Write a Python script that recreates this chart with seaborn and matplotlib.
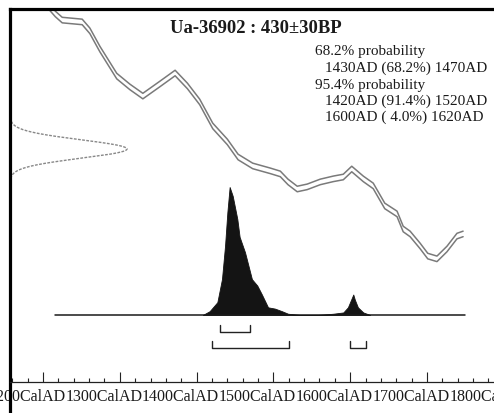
import numpy as np
import matplotlib
matplotlib.use("Agg")
import matplotlib.pyplot as plt
import matplotlib.transforms as mtransforms
import seaborn as sns

# ---------------- data ----------------
title = "Ua-36902 : 430±30BP"
date_bp = 430
date_err = 30

curve_year = [1205, 1216, 1225, 1251, 1261, 1274, 1296, 1313, 1330, 1352,
              1372, 1388, 1404, 1421, 1440, 1454, 1473, 1496, 1509, 1519,
              1531, 1544, 1561, 1578, 1591, 1602, 1617, 1630, 1645, 1661,
              1669, 1678, 1691, 1701, 1713, 1726, 1739, 1747]
curve_bp = [900, 869, 849, 843, 814, 755, 667, 632, 602, 641,
            677, 635, 583, 505, 453, 404, 375, 359, 349, 323,
            300, 307, 323, 333, 339, 365, 333, 310, 245, 219,
            170, 154, 115, 82, 73, 105, 147, 154]
curve_err = 9

prob_year = [1408, 1417, 1427, 1433, 1437, 1440, 1443, 1447, 1453, 1456,
             1463, 1472, 1479, 1485, 1493, 1502, 1511, 1519, 1535, 1557,
             1578, 1591, 1597, 1604, 1606, 1610, 1617, 1626]
prob_val = [0, 0.03, 0.10, 0.28, 0.54, 0.80, 1.0, 0.93, 0.75, 0.61,
            0.49, 0.28, 0.23, 0.16, 0.06, 0.05, 0.03, 0.01, 0, 0,
            0.01, 0.02, 0.06, 0.16, 0.12, 0.06, 0.02, 0]

baseline_years = [1215, 1750]
range68 = [(1430, 1470)]
range95 = [(1420, 1520), (1600, 1620)]

text_heads = ["68.2% probability", "95.4% probability"]
text_68 = ["1430AD (68.2%) 1470AD"]
text_95 = ["1420AD (91.4%) 1520AD", "1600AD ( 4.0%) 1620AD"]

major_ticks = list(range(1100, 1901, 100))
minor_ticks = list(range(1100, 1901, 20))
tick_labels = [f"{y}CalAD" for y in major_ticks]

# ---------------- figure ----------------
sns.set_style("white")
plt.rcParams['font.family'] = ['Liberation Serif', 'DejaVu Serif']

W, H = 494, 414
RIGHT_PX = 560  # the plot frame continues beyond the cropped image
XLIM = (1157, 1200 + (RIGHT_PX - 43) / 0.768)
fig = plt.figure(figsize=(W / 100, H / 100), dpi=100)
fig.patch.set_facecolor("white")
ax = fig.add_axes([10 / W, 0, (RIGHT_PX - 10) / W, 404 / H])

# calibration curve envelope (two lines)
up = [b + curve_err for b in curve_bp]
lo = [b - curve_err for b in curve_bp]
sns.lineplot(x=curve_year, y=up, ax=ax, color="#7a7a7a", lw=1.1,
             estimator=None, sort=False)
sns.lineplot(x=curve_year, y=lo, ax=ax, color="#7a7a7a", lw=1.1,
             estimator=None, sort=False)

# measured date gaussian on the left
bp_grid = np.linspace(date_bp - 3.2 * date_err, date_bp + 3.2 * date_err, 200)
dens = np.exp(-0.5 * ((bp_grid - date_bp) / date_err) ** 2)
gauss_w = 117 / (RIGHT_PX - 10)
trans = mtransforms.blended_transform_factory(ax.transAxes, ax.transData)
ax.plot(gauss_w * dens, bp_grid, transform=trans, color="#888888", lw=1.0,
        ls=(0, (2, 1)))

# probability distribution on overlay axis
ax2 = ax.twinx()
ax2.fill_between(prob_year, 0, prob_val, color="#141414", lw=0.6,
                 edgecolor="#141414")
ax2.plot(baseline_years, [0, 0], color="#1a1a1a", lw=1.1)


def bracket(a, b, ytop, ybot):
    ax2.plot([a, a, b, b], [ytop, ybot, ybot, ytop], color="#222222", lw=1.0)


for a, b in range68:
    bracket(a, b, -0.078, -0.133)
for a, b in range95:
    bracket(a, b, -0.203, -0.258)

# limits (after all plotting, since x is shared)
ax.set_xlim(*XLIM)
ax.set_ylim(430 - 264 * 3.25, 430 + 140 * 3.25)
ax2.set_ylim(-98 / 128, 306 / 128)

for s in ax2.spines.values():
    s.set_visible(False)
ax2.set_yticks([])
ax2.tick_params(axis="x", which="both", bottom=False, top=False,
                labelbottom=False)

# spines / axis
ax.spines["right"].set_visible(False)
ax.spines["left"].set_linewidth(2.3)
ax.spines["top"].set_linewidth(2.3)
ax.spines["left"].set_color("black")
ax.spines["top"].set_color("black")
ax.spines["bottom"].set_position(("axes", 31 / 404))
ax.spines["bottom"].set_linewidth(0.9)
ax.spines["bottom"].set_color("#222222")
ax.set_yticks([])
ax.set_xticks(major_ticks)
ax.set_xticks(minor_ticks, minor=True)
ax.set_xticklabels(tick_labels)
ax.set_xlim(*XLIM)
ax.tick_params(axis="x", which="major", bottom=True, direction="in",
               length=7.2, width=0.8, color="#222222", pad=4,
               labelsize=11.5, labelcolor="#1a1a1a")
ax.tick_params(axis="x", which="minor", bottom=True, direction="in",
               length=2.9, width=0.8, color="#222222")
offset = mtransforms.ScaledTranslation(-0.16, 0, fig.dpi_scale_trans)
for lab in ax.get_xticklabels():
    lab.set_transform(lab.get_transform() + offset)
ax.set_xlabel("")
ax.set_ylabel("")

# texts
fig.text(256 / W, 1 - 28.5 / H, title, ha="center", va="center",
         fontsize=13.4, fontweight="bold", color="#1a1a1a")
lines = [(315, 52, text_heads[0]), (325, 68.5, text_68[0]),
         (315, 85, text_heads[1]), (325, 101.5, text_95[0]),
         (325, 117.5, text_95[1])]
for x, y, t in lines:
    fig.text(x / W, 1 - y / H, t, ha="left", va="center", fontsize=11,
             color="#1a1a1a")

fig.savefig("out.png", dpi=100, facecolor="white")
